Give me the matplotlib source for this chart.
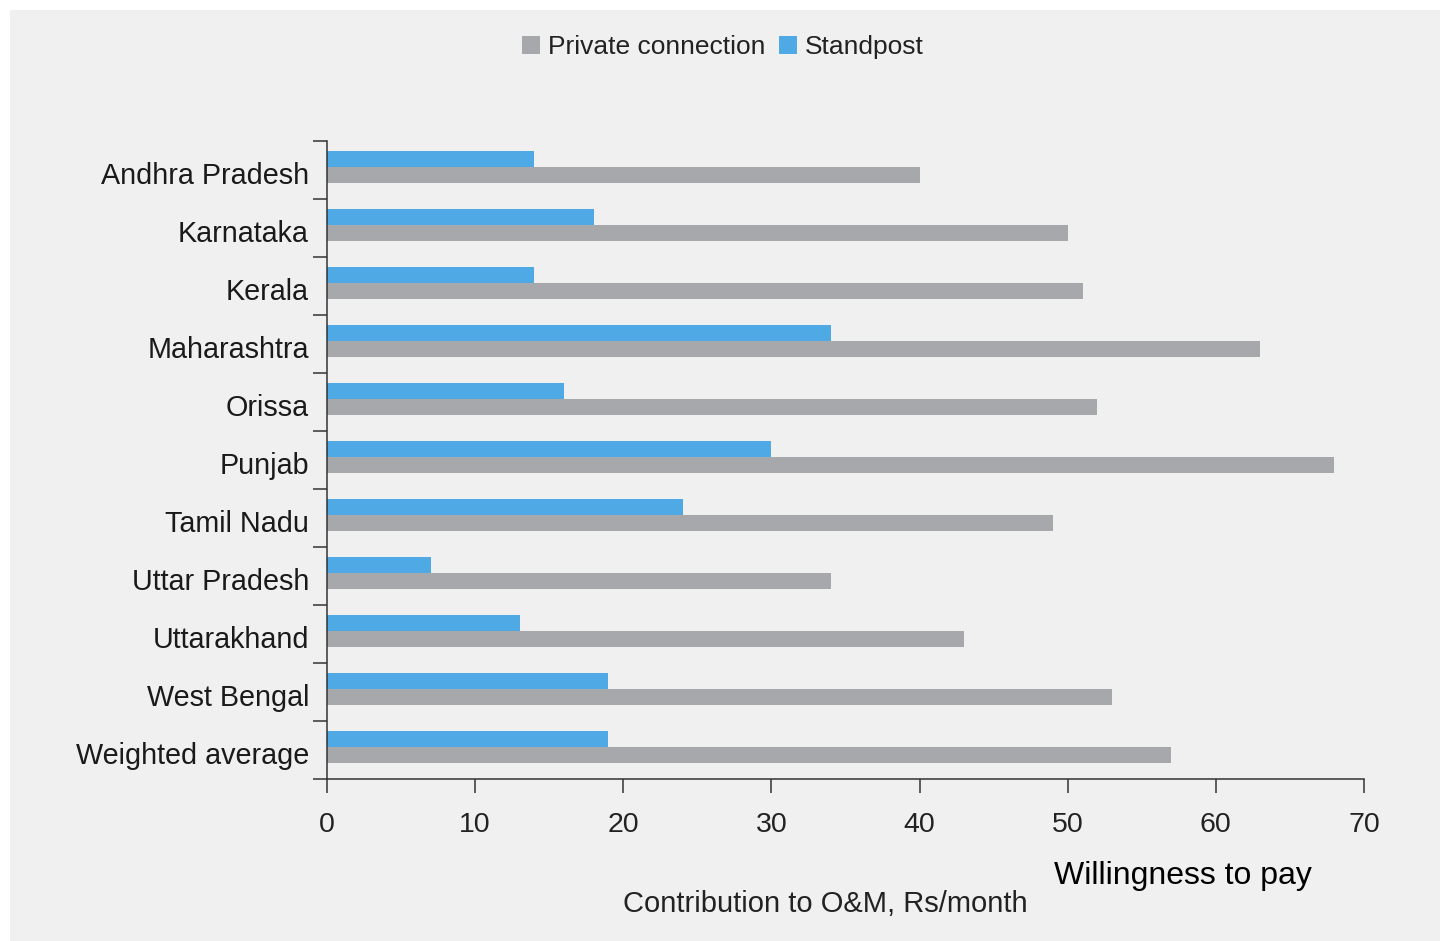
import matplotlib
matplotlib.use("Agg")
import matplotlib.pyplot as plt
import matplotlib.transforms as mtransforms
import numpy as np
from matplotlib.patches import Rectangle

plt.rcParams['font.family'] = ['Liberation Sans', 'DejaVu Sans']

states = ["Andhra Pradesh", "Karnataka", "Kerala", "Maharashtra", "Orissa",
          "Punjab", "Tamil Nadu", "Uttar Pradesh", "Uttarakhand",
          "West Bengal", "Weighted average"]
private_connection = [40, 50, 51, 63, 52, 68, 49, 34, 43, 53, 57]
standpost = [14, 18, 14, 34, 16, 30, 24, 7, 13, 19, 19]
x_ticks = [0, 10, 20, 30, 40, 50, 60, 70]

GRAY = "#A7A8AB"
BLUE = "#4FA9E4"
BG = "#F0F0F0"
DARK = "#333333"

W, H = 1440, 941
fig = plt.figure(figsize=(W / 100, H / 100), dpi=100, facecolor="white")
# light panel behind everything
fig.patches.append(Rectangle((10 / W, 0), 1 - 10 / W, 1 - 10 / H,
                             transform=fig.transFigure, facecolor=BG,
                             edgecolor="none", zorder=-1))

left, right, top, bottom = 327, 1364, 141, 779
ax = fig.add_axes([left / W, 1 - bottom / H, (right - left) / W, (bottom - top) / H])
ax.set_facecolor(BG)

n = len(states)
y = np.arange(n)
h = 0.275
ax.barh(y - 0.19, standpost, height=h, color=BLUE, label="Standpost", zorder=2)
ax.barh(y + 0.085, private_connection, height=h, color=GRAY,
        label="Private connection", zorder=2)

ax.set_xlim(0, 70)
ax.set_ylim(n - 0.5, -0.5)
ax.set_xticks(x_ticks)
ax.set_xticklabels([str(v) for v in x_ticks])
ax.set_yticks(y)
ax.set_yticklabels(states)
ax.set_yticks(np.arange(n + 1) - 0.5, minor=True)

ax.tick_params(axis="y", which="major", length=0, pad=13, labelsize=20.7,
               labelcolor="#1a1a1a")
ax.tick_params(axis="y", which="minor", length=10, width=1.1, color=DARK,
               direction="out")
ax.tick_params(axis="x", which="major", length=10, width=1.1, color=DARK,
               direction="out", pad=14, labelsize=20.5, labelcolor="#222222")

# nudge category labels slightly downward
shift = mtransforms.ScaledTranslation(0, -3 / 100, fig.dpi_scale_trans)
for lab in ax.get_yticklabels():
    lab.set_transform(lab.get_transform() + shift)

for side in ("top", "right"):
    ax.spines[side].set_visible(False)
for side in ("left", "bottom"):
    ax.spines[side].set_color(DARK)
    ax.spines[side].set_linewidth(1.1)

handles, labels = ax.get_legend_handles_labels()
leg = fig.legend(handles[::-1], labels[::-1], loc="center",
                 bbox_to_anchor=(723 / W, 1 - 47 / H), ncol=2, frameon=False,
                 fontsize=19, handlelength=0.7, handleheight=0.7,
                 handletextpad=0.3, columnspacing=0.5)
for t in leg.get_texts():
    t.set_color("#222222")

fig.text(825 / W, 1 - 904 / H, "Contribution to O&M, Rs/month", ha="center",
         va="center", fontsize=21, color="#222222")
fig.text(1183 / W, 1 - 876 / H, "Willingness to pay", ha="center",
         va="center", fontsize=23, color="black")

fig.savefig("out.png", dpi=100, facecolor="white")
